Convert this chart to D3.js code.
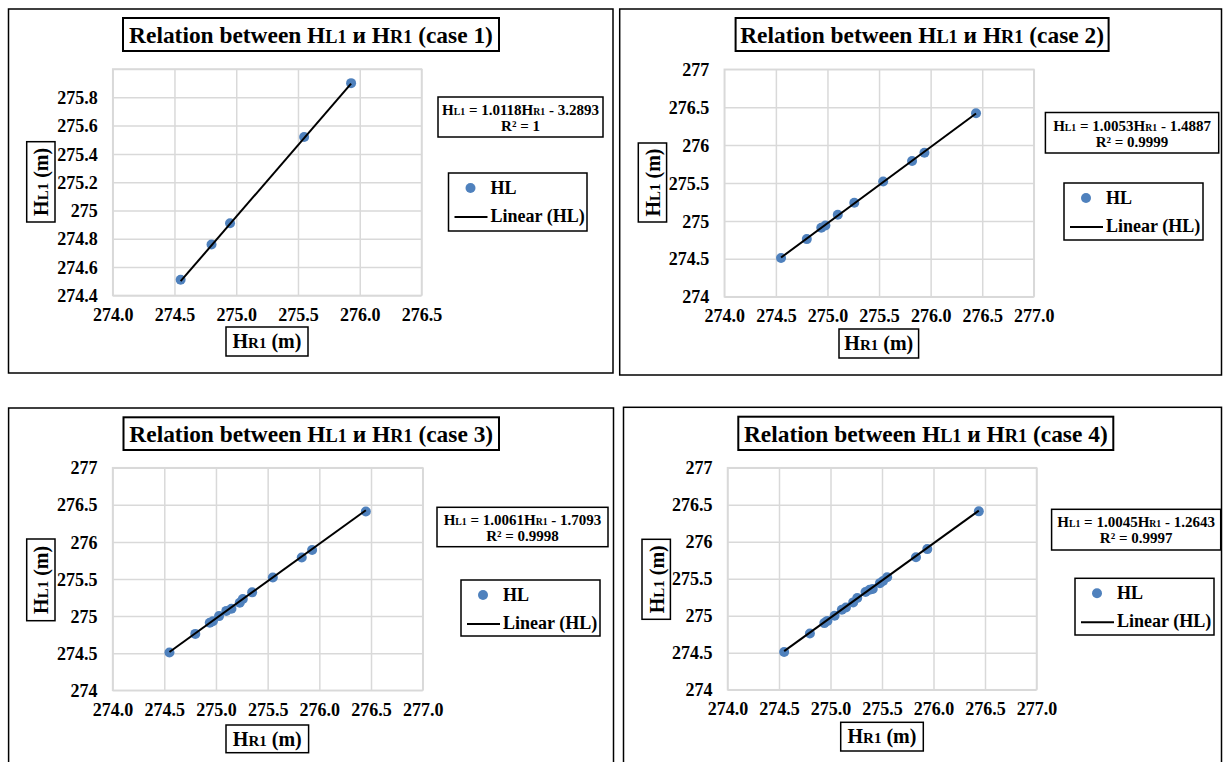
<!DOCTYPE html>
<html><head><meta charset="utf-8">
<script src="https://cdn.jsdelivr.net/npm/d3@7"></script>
<style>
html,body{margin:0;padding:0;background:#fff;} svg{display:block;}
svg text, svg tspan { font-family: "Liberation Serif", "Times New Roman", serif !important; font-weight: bold; }
</style>
</head><body>
<script>
// ---------------- DATA ----------------
const caseNames = ["case 1", "case 2", "case 3", "case 4"];

const hr1Case1 = [274.55, 274.80, 274.95, 275.55, 275.93];
const hl1Case1 = [274.51, 274.76, 274.91, 275.52, 275.90];

const hr1Case2 = [274.55, 274.80, 274.94, 274.98, 275.10, 275.26, 275.54, 275.82, 275.94, 276.44];
const hl1Case2 = [274.51, 274.76, 274.91, 274.94, 275.08, 275.24, 275.52, 275.79, 275.90, 276.42];

const hr1Case3 = [274.55, 274.80, 274.94, 274.97, 275.03, 275.10, 275.15, 275.23, 275.26, 275.35, 275.55, 275.83, 275.93, 276.45];
const hl1Case3 = [274.51, 274.76, 274.91, 274.93, 275.00, 275.07, 275.10, 275.18, 275.23, 275.32, 275.52, 275.79, 275.89, 276.41];

const hr1Case4 = [274.55, 274.80, 274.94, 274.97, 275.04, 275.11, 275.15, 275.22, 275.26, 275.34, 275.38, 275.41, 275.48, 275.51, 275.55, 275.83, 275.94, 276.44];
const hl1Case4 = [274.51, 274.76, 274.90, 274.93, 275.00, 275.08, 275.11, 275.18, 275.24, 275.32, 275.35, 275.36, 275.44, 275.47, 275.52, 275.79, 275.90, 276.41];

const slopes = [1.0118, 1.0053, 1.0061, 1.0045];
const intercepts = [-3.2893, -1.4887, -1.7093, -1.2643];
const slopeLabels = ["1.0118", "1.0053", "1.0061", "1.0045"];
const interceptLabels = ["3.2893", "1.4887", "1.7093", "1.2643"];
const r2Labels = ["1", "0.9999", "0.9998", "0.9997"];

const xTicksCase1 = [274.0, 274.5, 275.0, 275.5, 276.0, 276.5];
const xTicksOther = [274.0, 274.5, 275.0, 275.5, 276.0, 276.5, 277.0];
const yGridCase1 = [274.4, 274.6, 274.8, 275.0, 275.2, 275.4, 275.6, 275.8, 276.0];
const yTickLabelsCase1 = ["274.4", "274.6", "274.8", "275", "275.2", "275.4", "275.6", "275.8", ""];
const yGridOther = [274, 274.5, 275, 275.5, 276, 276.5, 277];
const yTickLabelsOther = ["274", "274.5", "275", "275.5", "276", "276.5", "277"];
const legendLabels = ["HL", "Linear (HL)"];

// ---------------- LAYOUT ----------------
const W = 1223, H = 762;
const panels = [
  { xs: hr1Case1, ys: hl1Case1, xDom: [274, 276.5], yDom: [274.4, 276.0], xTicks: xTicksCase1, yTicks: yGridCase1, yLabels: yTickLabelsCase1,
    frame: [8.5, 9, 613, 373], title: [123, 18, 499, 51], plot: [112.7, 69, 421.5, 295.4],
    ylab: [26.7, 141.7, 55, 222], xlab: [226, 327, 308, 356], eq: [438, 97, 603, 137], leg: [448.5, 173, 587, 231] },
  { xs: hr1Case2, ys: hl1Case2, xDom: [274, 277], yDom: [274, 277], xTicks: xTicksOther, yTicks: yGridOther, yLabels: yTickLabelsOther,
    frame: [619.7, 9, 1221.5, 375], title: [735.6, 18, 1108.6, 51], plot: [724.3, 69.3, 1033.8, 296.7],
    ylab: [638.3, 143, 666.6, 222], xlab: [839, 329, 918.6, 358], eq: [1045.4, 112.5, 1218.7, 153], leg: [1064, 183, 1203, 240] },
  { xs: hr1Case3, ys: hl1Case3, xDom: [274, 277], yDom: [274, 277], xTicks: xTicksOther, yTicks: yGridOther, yLabels: yTickLabelsOther,
    frame: [8.6, 408, 613.5, 790], title: [123.5, 417.3, 499, 450], plot: [112.6, 467.7, 422.7, 690.3],
    ylab: [26.7, 539, 55, 620.7], xlab: [226, 725, 308.6, 752.7], eq: [437, 507.3, 608, 546.7], leg: [461, 580, 600, 636] },
  { xs: hr1Case4, ys: hl1Case4, xDom: [274, 277], yDom: [274, 277], xTicks: xTicksOther, yTicks: yGridOther, yLabels: yTickLabelsOther,
    frame: [623.5, 407.3, 1221.5, 790], title: [738.3, 416.7, 1113.3, 450], plot: [727.5, 467.7, 1036.5, 689.7],
    ylab: [642, 539.3, 670.4, 619.3], xlab: [840.7, 722.3, 923.3, 751], eq: [1051.6, 509.3, 1220.7, 550], leg: [1075, 578.3, 1214, 635] }
];

const FONT = "\"Liberation Serif\", \"Times New Roman\", serif";
const POINT = "#4f81bd";
const GRID = "#d9d9d9";

const svg = d3.select("body").append("svg").attr("width", W).attr("height", H)
  .style("font-family", FONT).attr("font-weight", "bold");
svg.append("rect").attr("width", W).attr("height", H).attr("fill", "#fff");

function rich(text, parts, small) {
  parts.forEach(([t, sm]) => {
    const ts = text.append("tspan").text(t);
    if (sm) ts.attr("font-size", small + "em");
  });
  return text;
}
function box(g, b, sw) {
  g.append("rect").attr("x", b[0]).attr("y", b[1]).attr("width", b[2] - b[0]).attr("height", b[3] - b[1])
    .attr("fill", "#fff").attr("stroke", "#000").attr("stroke-width", sw);
}
function fit(sel, cx, by, target) {
  const w = sel.node().getComputedTextLength();
  sel.attr("x", null).attr("y", null)
    .attr("transform", `translate(${cx},${by}) scale(${target / w},1)`);
}

panels.forEach((p, i) => {
  const g = svg.append("g");
  g.append("rect").attr("x", p.frame[0]).attr("y", p.frame[1]).attr("width", p.frame[2] - p.frame[0])
    .attr("height", p.frame[3] - p.frame[1]).attr("fill", "none").attr("stroke", "#000").attr("stroke-width", 1.5);

  const [px0, py0, px1, py1] = p.plot;
  const x = d3.scaleLinear().domain(p.xDom).range([px0, px1]);
  const y = d3.scaleLinear().domain(p.yDom).range([py1, py0]);

  g.append("rect").attr("x", px0).attr("y", py0).attr("width", px1 - px0).attr("height", py1 - py0)
    .attr("fill", "none").attr("stroke", GRID).attr("stroke-width", 1.5);

  const xa = g.append("g").attr("transform", `translate(0,${py1})`)
    .call(d3.axisBottom(x).tickValues(p.xTicks).tickFormat(d3.format(".1f")).tickSize(-(py1 - py0)));
  xa.attr("font-family", null).attr("font-size", 18);
  xa.select(".domain").remove();
  xa.selectAll("line").attr("stroke", GRID).attr("stroke-width", 1.5);
  xa.selectAll("text").attr("y", 25.5).attr("dy", null).attr("fill", "#000");

  const ya = g.append("g").attr("transform", `translate(${px0},0)`)
    .call(d3.axisLeft(y).tickValues(p.yTicks).tickFormat((d, k) => p.yLabels[k]).tickSize(-(px1 - px0)).tickPadding(15));
  ya.attr("font-family", null).attr("font-size", 18);
  ya.select(".domain").remove();
  ya.selectAll("line").attr("stroke", GRID).attr("stroke-width", 1.5);
  ya.selectAll("text").attr("fill", "#000").attr("dy", "0.34em");

  const pts = p.xs.map((v, k) => [v, p.ys[k]]);
  g.append("g").selectAll("circle").data(pts).join("circle")
    .attr("cx", d => x(d[0])).attr("cy", d => y(d[1])).attr("r", 5).attr("fill", POINT);

  const xmin = d3.min(p.xs), xmax = d3.max(p.xs);
  const f = v => slopes[i] * v + intercepts[i];
  g.append("line").attr("x1", x(xmin)).attr("y1", y(f(xmin))).attr("x2", x(xmax)).attr("y2", y(f(xmax)))
    .attr("stroke", "#000").attr("stroke-width", 2);

  // title
  box(g, p.title, 2);
  const tcx = (p.title[0] + p.title[2]) / 2;
  const tt = g.append("text").attr("text-anchor", "middle").attr("font-size", 23);
  rich(tt, [["Relation between H"], ["L1", true], [" и H"], ["R1", true], [" (" + caseNames[i] + ")"]], 0.78);
  fit(tt, tcx, p.title[1] + 25, 364);

  // y label
  box(g, p.ylab, 1.5);
  const ycx = (p.ylab[0] + p.ylab[2]) / 2, ycy = (p.ylab[1] + p.ylab[3]) / 2;
  const yt = g.append("text").attr("text-anchor", "middle").attr("font-size", 20).attr("dy", "0.34em")
    .attr("transform", `translate(${ycx + 0.5},${ycy}) rotate(-90)`);
  rich(yt, [["H"], ["L1", true], [" (m)"]], 0.75);

  // x label
  box(g, p.xlab, 1.5);
  const xcx = (p.xlab[0] + p.xlab[2]) / 2, xcy = (p.xlab[1] + p.xlab[3]) / 2;
  const xt = g.append("text").attr("text-anchor", "middle").attr("font-size", 20).attr("dy", "0.34em")
    .attr("x", xcx).attr("y", xcy);
  rich(xt, [["H"], ["R1", true], [" (m)"]], 0.75);

  // equation
  box(g, p.eq, 1.5);
  const ecx = (p.eq[0] + p.eq[2]) / 2;
  const e1 = g.append("text").attr("text-anchor", "middle").attr("font-size", 15).attr("x", ecx).attr("y", p.eq[1] + 18);
  rich(e1, [["H"], ["L1", true], [" = " + slopeLabels[i] + "H"], ["R1", true], [" - " + interceptLabels[i]]], 0.65);
  g.append("text").attr("text-anchor", "middle").attr("font-size", 15).attr("x", ecx).attr("y", p.eq[1] + 34)
    .text("R² = " + r2Labels[i]);

  // legend
  box(g, p.leg, 1.5);
  const lx = p.leg[0], ly = p.leg[1];
  g.append("circle").attr("cx", lx + 22).attr("cy", ly + 15).attr("r", 5).attr("fill", POINT);
  g.append("text").attr("x", lx + 42).attr("y", ly + 20.5).attr("font-size", 18).text(legendLabels[0]);
  g.append("line").attr("x1", lx + 6).attr("x2", lx + 39).attr("y1", ly + 44).attr("y2", ly + 44)
    .attr("stroke", "#000").attr("stroke-width", 2);
  g.append("text").attr("x", lx + 42).attr("y", ly + 49).attr("font-size", 18).text(legendLabels[1]);
});
</script>
</body></html>
